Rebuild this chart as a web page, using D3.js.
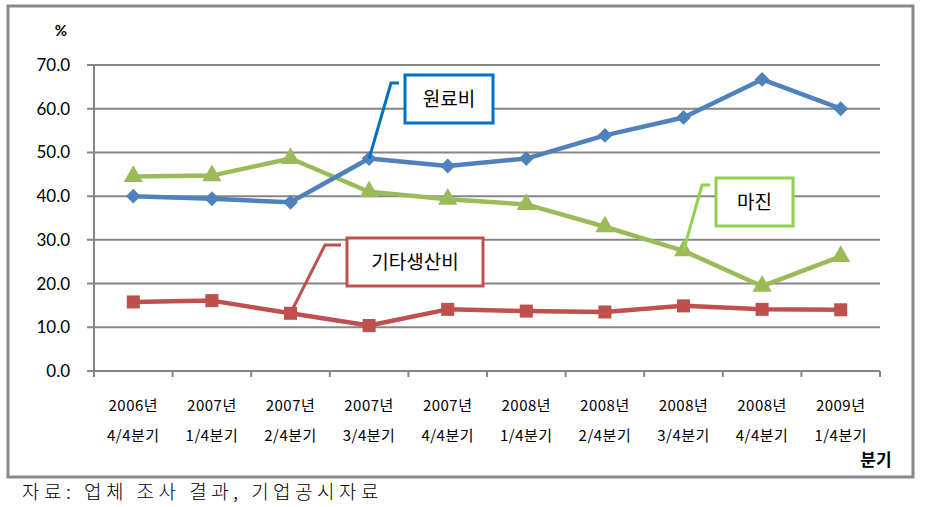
<!DOCTYPE html>
<html><head><meta charset="utf-8">
<script src="https://cdn.jsdelivr.net/npm/d3@7"></script>
<style>body{margin:0;background:#fff}svg{display:block}</style>
</head><body>
<svg id="c" width="925" height="507"></svg>
<script>
const years = ["2006년","2007년","2007년","2007년","2007년","2008년","2008년","2008년","2008년","2009년"];
const quarters = ["4/4분기","1/4분기","2/4분기","3/4분기","4/4분기","1/4분기","2/4분기","3/4분기","4/4분기","1/4분기"];
const categories = years.map((y,i)=>y+" "+quarters[i]);
const rawMaterial = [40.0, 39.4, 38.6, 48.6, 46.9, 48.6, 53.9, 58.0, 66.7, 60.0];   // 원료비
const margin = [44.5, 44.7, 48.6, 41.0, 39.3, 38.1, 33.0, 27.5, 19.4, 26.2];       // 마진
const otherCost = [15.8, 16.1, 13.2, 10.4, 14.1, 13.7, 13.5, 14.9, 14.1, 14.0];     // 기타생산비
const yTicks = [0,10,20,30,40,50,60,70];

const svg = d3.select("#c");
const KFONT = "'Noto Sans CJK KR','Noto Sans',sans-serif";
const NFONT = "'Lato','Noto Sans',sans-serif";

svg.append("rect").attr("x",8).attr("y",6).attr("width",905).attr("height",471)
  .attr("fill","#fff").attr("stroke","#898989").attr("stroke-width",3);

const x = d3.scaleBand().domain(categories).range([94,880]);
const y = d3.scaleLinear().domain([0,70]).range([371,65]);
const cx = c => x(c) + x.bandwidth()/2;

// gridlines
svg.append("g").selectAll("line").data(yTicks).join("line")
  .attr("x1",87).attr("x2",880).attr("y1",d=>y(d)).attr("y2",d=>y(d))
  .attr("stroke","#868686").attr("stroke-width",2);
// y axis line
svg.append("line").attr("x1",94).attr("x2",94).attr("y1",y(70)).attr("y2",y(0)+6)
  .attr("stroke","#868686").attr("stroke-width",2);
// x ticks
const xb = categories.map(c=>x(c)).concat([880]);
svg.append("g").selectAll("line").data(xb).join("line")
  .attr("x1",d=>d).attr("x2",d=>d).attr("y1",y(0)).attr("y2",y(0)+6)
  .attr("stroke","#868686").attr("stroke-width",2);

// y labels
svg.append("g").selectAll("text").data(yTicks).join("text")
  .attr("x",70).attr("y",d=>y(d)).attr("dy","0.35em").attr("text-anchor","end")
  .attr("font-family",NFONT).attr("font-size",17).attr("fill","#000")
  .text(d=>d3.format(".1f")(d));
svg.append("text").attr("x",61).attr("y",31).attr("dy","0.35em").attr("text-anchor","middle")
  .attr("font-family",NFONT).attr("font-weight","bold").attr("font-size",15).text("%");

// x labels
const xl = svg.append("g").selectAll("g").data(categories).join("g");
xl.append("text").attr("x",c=>cx(c)).attr("y",406).attr("dy","0.35em").attr("text-anchor","middle")
  .attr("font-family",KFONT).attr("font-size",15).attr("letter-spacing","0.5px").text((c,i)=>years[i]);
xl.append("text").attr("x",c=>cx(c)).attr("y",436).attr("dy","0.35em").attr("text-anchor","middle")
  .attr("font-family",KFONT).attr("font-size",15).attr("letter-spacing","0.5px").text((c,i)=>quarters[i]);
svg.append("text").attr("x",876).attr("y",460).attr("dy","0.35em").attr("text-anchor","middle")
  .attr("font-family",KFONT).attr("font-weight","bold").attr("font-size",17).text("분기");

// series
const line = d3.line().x((d,i)=>cx(categories[i])).y(d=>y(d));
function series(vals,color,shape,size,rot){
  svg.append("path").datum(vals).attr("d",line).attr("fill","none")
    .attr("stroke",color).attr("stroke-width",4.5).attr("stroke-linejoin","round");
  svg.append("g").selectAll("path").data(vals).join("path")
    .attr("transform",(d,i)=>`translate(${cx(categories[i])},${y(d)}) rotate(${rot})`)
    .attr("d",d3.symbol().type(shape).size(size)).attr("fill",color);
}
series(otherCost,"#c0504d",d3.symbolSquare,170,0);
series(margin,"#9bbb59",d3.symbolTriangle,160,0);
series(rawMaterial,"#4f81bd",d3.symbolSquare,110,45);

// callouts
function callout(idx,vals,color,bx,by,bw,bh,lx,ly,label){
  const px = cx(categories[idx]), py = y(vals[idx]);
  svg.append("path").attr("d",`M${px},${py}L${lx},${ly}L${bx-6},${ly}`)
    .attr("fill","none").attr("stroke",color).attr("stroke-width",3);
  svg.append("rect").attr("x",bx).attr("y",by).attr("width",bw).attr("height",bh)
    .attr("fill","#fff").attr("stroke",color).attr("stroke-width",3);
  svg.append("text").attr("x",bx+bw/2).attr("y",by+bh/2).attr("dy","0.35em").attr("text-anchor","middle")
    .attr("font-family",KFONT).attr("font-size",19).attr("fill","#000").text(label);
}
callout(3,rawMaterial,"#0070c0",405,75,88,48,391,83,"원료비");
callout(2,otherCost,"#c0504d",347,238,136,48,325,245,"기타생산비");
callout(7,margin,"#92d050",716,178,77,48,702,185,"마진");

// source
svg.append("text").attr("x",22).attr("y",492).attr("dy","0.35em")
  .attr("font-family",KFONT).attr("font-weight",300).attr("font-size",19).attr("letter-spacing","4.5px")
  .text("자료: 업체 조사 결과, 기업공시자료");
</script>
</body></html>
